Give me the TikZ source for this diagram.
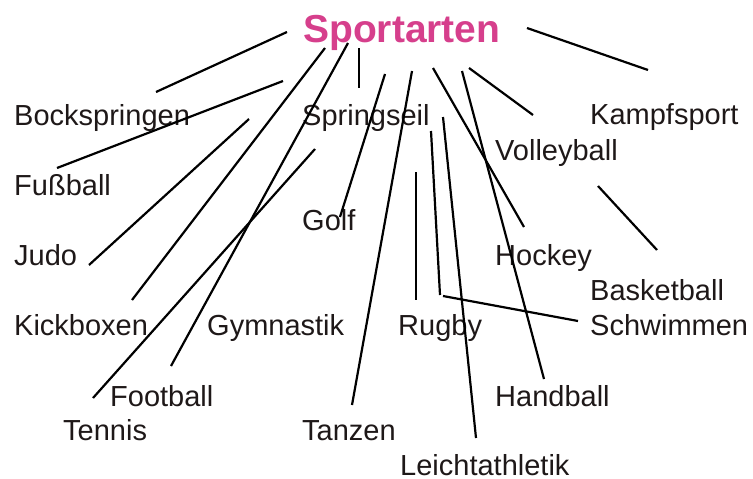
\documentclass[tikz,border=0pt]{standalone}
\usepackage{fontspec}
\setmainfont{Liberation Sans}
\definecolor{titlepink}{RGB}{214,63,140}
\definecolor{textdark}{RGB}{30,24,24}
\begin{document}
\begin{tikzpicture}[x=1pt,y=-1pt,
  lbl/.style={anchor=base west,inner sep=0pt,text=textdark,font=\fontsize{29}{34}\selectfont},
  ttl/.style={anchor=base west,inner sep=0pt,text=titlepink,font=\fontsize{39}{46}\selectfont\bfseries},
  conn/.style={line width=2.2pt,draw=black}]
\useasboundingbox (0,0) rectangle (753,479);
% title
\node[ttl] (sport) at (303,42) {Sportarten};
% labels
\node[lbl] (bock) at (14,125) {Bockspringen};
\node[lbl] (seil) at (302,125) {Springseil};
\node[lbl] (kampf) at (590,124) {Kampfsport};
\node[lbl] (volley) at (495,160) {Volleyball};
\node[lbl] (fuss) at (14,195) {Fußball};
\node[lbl] (golf) at (302,230) {Golf};
\node[lbl] (judo) at (14,265) {Judo};
\node[lbl] (hockey) at (495,265) {Hockey};
\node[lbl] (basket) at (590,300) {Basketball};
\node[lbl] (kick) at (14,335) {Kickboxen};
\node[lbl] (gym) at (207,335) {Gymnastik};
\node[lbl] (rugby) at (398,335) {Rugby};
\node[lbl] (schwimm) at (590,335) {Schwimmen};
\node[lbl] (football) at (110,406) {Football};
\node[lbl] (hand) at (495,406) {Handball};
\node[lbl] (tennis) at (63,440) {Tennis};
\node[lbl] (tanz) at (302,440) {Tanzen};
\node[lbl] (leicht) at (400,475) {Leichtathletik};
% connector ends
\coordinate (a1) at (287,32);  \coordinate (a2) at (156,92);
\coordinate (b1) at (283,81);  \coordinate (b2) at (57,168);
\coordinate (c1) at (249,119); \coordinate (c2) at (89,265);
\coordinate (d1) at (325,48);  \coordinate (d2) at (132,300);
\coordinate (e1) at (348,43);  \coordinate (e2) at (171,366);
\coordinate (f1) at (315,149); \coordinate (f2) at (93,398);
\coordinate (g1) at (359,48);  \coordinate (g2) at (359,88);
\coordinate (h1) at (385,74);  \coordinate (h2) at (340,217);
\coordinate (i1) at (412,71);  \coordinate (i2) at (352,405);
\coordinate (j1) at (433,68);  \coordinate (j2) at (524,227);
\coordinate (k1) at (462,71);  \coordinate (k2) at (544,379);
\coordinate (l1) at (469,68);  \coordinate (l2) at (533,115);
\coordinate (m1) at (527,28);  \coordinate (m2) at (648,70);
\coordinate (n1) at (598,186); \coordinate (n2) at (657,250);
\coordinate (o1) at (416,172); \coordinate (o2) at (416,300);
\coordinate (p1) at (431,131); \coordinate (p2) at (440,295);
\coordinate (p3) at (443,296); \coordinate (p4) at (578,321);
\coordinate (q1) at (443,117); \coordinate (q2) at (476,438);
% connectors
\draw[conn] (a1) -- (a2);
\draw[conn] (b1) -- (b2);
\draw[conn] (c1) -- (c2);
\draw[conn] (d1) -- (d2);
\draw[conn] (e1) -- (e2);
\draw[conn] (f1) -- (f2);
\draw[conn] (g1) -- (g2);
\draw[conn] (h1) -- (h2);
\draw[conn] (i1) -- (i2);
\draw[conn] (j1) -- (j2);
\draw[conn] (k1) -- (k2);
\draw[conn] (l1) -- (l2);
\draw[conn] (m1) -- (m2);
\draw[conn] (n1) -- (n2);
\draw[conn] (o1) -- (o2);
\draw[conn] (p1) -- (p2);
\draw[conn] (p3) -- (p4);
\draw[conn] (q1) -- (q2);
\end{tikzpicture}
\end{document}
